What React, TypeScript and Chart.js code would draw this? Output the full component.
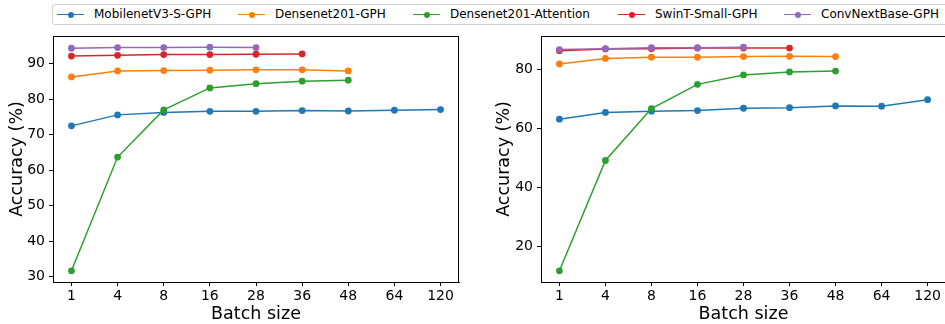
import React, { useEffect, useRef } from "react";
import { Chart, registerables } from "chart.js";

Chart.register(...registerables);

const batchSizes = ["1", "4", "8", "16", "28", "36", "48", "64", "120"];
const seriesNames = [
  "MobilenetV3-S-GPH",
  "Densenet201-GPH",
  "Densenet201-Attention",
  "SwinT-Small-GPH",
  "ConvNextBase-GPH",
];
const seriesColors = ["#1f77b4", "#ff7f0e", "#2ca02c", "#d62728", "#9467bd"];

const leftMobilenet = [72.5, 75.6, 76.3, 76.6, 76.6, 76.8, 76.7, 76.9, 77.1];
const leftDensenet = [86.3, 88.0, 88.1, 88.2, 88.3, 88.3, 88.0];
const leftAttention = [31.6, 63.7, 77.0, 83.2, 84.4, 85.1, 85.4];
const leftSwin = [92.2, 92.4, 92.6, 92.6, 92.7, 92.8];
const leftConvNext = [94.4, 94.6, 94.6, 94.7, 94.6];

const rightMobilenet = [63.2, 65.5, 65.9, 66.1, 66.9, 67.1, 67.7, 67.6, 69.8];
const rightDensenet = [81.9, 83.8, 84.2, 84.2, 84.4, 84.5, 84.4];
const rightAttention = [11.8, 49.2, 66.8, 75.0, 78.2, 79.2, 79.5];
const rightSwin = [86.4, 87.0, 87.1, 87.3, 87.3, 87.3];
const rightConvNext = [86.8, 87.1, 87.4, 87.4, 87.6];

const leftYTicks = [30, 40, 50, 60, 70, 80, 90];
const rightYTicks = [20, 40, 60, 80];

const FONT = "'DejaVu Sans', sans-serif";

const framePlugin = {
  id: "frame",
  afterDraw(chart: any) {
    const { ctx, chartArea } = chart;
    ctx.save();
    ctx.strokeStyle = "#000";
    ctx.lineWidth = 1;
    ctx.strokeRect(
      Math.round(chartArea.left) + 0.5,
      Math.round(chartArea.top) + 0.5,
      Math.round(chartArea.right - chartArea.left) - 1,
      Math.round(chartArea.bottom - chartArea.top)
    );
    ctx.restore();
  },
};

function makeConfig(
  series: number[][],
  yTicks: number[],
  yAxisWidth: number,
  rightPad: number,
  titlePadTop: number
) {
  const all = series.flat();
  const lo = Math.min(...all);
  const hi = Math.max(...all);
  const span = hi - lo;
  const datasets = series.map((vals, i) => ({
    label: seriesNames[i],
    data: vals.map((v, j) => ({ x: j, y: v })),
    borderColor: seriesColors[i],
    backgroundColor: seriesColors[i],
    pointBackgroundColor: seriesColors[i],
    pointBorderWidth: 0,
    pointRadius: 3.4,
    borderWidth: 1.5,
    order: series.length - i,
    tension: 0,
  }));
  return {
    type: "line" as const,
    data: { datasets },
    plugins: [framePlugin],
    options: {
      animation: false as const,
      responsive: false,
      layout: { padding: { top: 6, right: rightPad, left: 0, bottom: 0 } },
      plugins: { legend: { display: false }, tooltip: { enabled: false } },
      scales: {
        x: {
          type: "linear" as const,
          min: -0.4,
          max: batchSizes.length - 1 + 0.4,
          afterBuildTicks: (scale: any) => {
            scale.ticks = batchSizes.map((_, i) => ({ value: i }));
          },
          afterFit: (scale: any) => {
            scale.height = 42;
            scale.paddingLeft = 0;
            scale.paddingRight = 0;
          },
          ticks: {
            callback: (v: any) => batchSizes[Math.round(Number(v))] ?? "",
            color: "#000",
            font: { family: FONT, size: 14 },
            padding: 2,
            maxRotation: 0,
            autoSkip: false,
          },
          grid: {
            drawOnChartArea: false,
            drawTicks: true,
            tickLength: 4,
            color: "#000",
          },
          border: { display: true, color: "#000", width: 1 },
          title: {
            display: true,
            text: "Batch size",
            color: "#000",
            font: { family: FONT, size: 17.5, lineHeight: 1.1 },
            padding: { top: 0, bottom: 0 },
          },
        },
        y: {
          type: "linear" as const,
          min: lo - 0.05 * span,
          max: hi + 0.05 * span,
          afterBuildTicks: (scale: any) => {
            scale.ticks = yTicks.map((v) => ({ value: v }));
          },
          afterFit: (scale: any) => {
            scale.width = yAxisWidth;
            scale.paddingTop = 0;
            scale.paddingBottom = 0;
          },
          ticks: {
            color: "#000",
            font: { family: FONT, size: 14 },
            padding: 4,
          },
          grid: {
            drawOnChartArea: false,
            drawTicks: true,
            tickLength: 4,
            color: "#000",
          },
          border: { display: true, color: "#000", width: 1 },
          title: {
            display: true,
            text: "Accuracy (%)",
            color: "#000",
            font: { family: FONT, size: 17.5, lineHeight: 1.2 },
            padding: { top: titlePadTop, bottom: 0 },
          },
        },
      },
    },
  };
}

function Panel(props: {
  series: number[][];
  yTicks: number[];
  left: number;
  width: number;
  yAxisWidth: number;
  rightPad: number;
  titlePadTop: number;
}) {
  const ref = useRef<HTMLCanvasElement | null>(null);
  useEffect(() => {
    if (!ref.current) return;
    const chart = new Chart(
      ref.current,
      makeConfig(props.series, props.yTicks, props.yAxisWidth, props.rightPad, props.titlePadTop) as any
    );
    return () => chart.destroy();
  }, []);
  return (
    <canvas
      ref={ref}
      width={props.width}
      height={294}
      style={{ position: "absolute", left: props.left, top: 30, width: props.width, height: 294, display: "block" }}
    />
  );
}

const legendItemLeft = [56, 237, 412, 617, 783];

function Legend() {
  return (
    <div
      style={{
        position: "absolute",
        left: 52,
        top: 4,
        width: 900,
        height: 21,
        border: "1px solid #d0d0d0",
        borderRadius: 3,
        boxSizing: "border-box",
        background: "#fff",
      }}
    >
      {seriesNames.map((name, i) => (
        <div
          key={name}
          style={{
            position: "absolute",
            left: legendItemLeft[i] - 52,
            top: 0,
            height: 19,
            display: "flex",
            alignItems: "center",
            whiteSpace: "nowrap",
          }}
        >
          <div style={{ position: "relative", width: 27, height: 8, marginRight: 10 }}>
            <div
              style={{
                position: "absolute",
                left: 0,
                top: 3.25,
                width: 27,
                height: 1.5,
                background: seriesColors[i],
              }}
            />
            <div
              style={{
                position: "absolute",
                left: 10.5,
                top: 1,
                width: 6,
                height: 6,
                borderRadius: 3,
                background: seriesColors[i],
              }}
            />
          </div>
          <span style={{ fontFamily: FONT, fontSize: 12, color: "#000", lineHeight: "19px" }}>{name}</span>
        </div>
      ))}
    </div>
  );
}

export default function App() {
  return (
    <div
      style={{
        position: "fixed",
        left: 0,
        top: 0,
        width: 945,
        height: 324,
        overflow: "hidden",
        background: "#fff",
      }}
    >
      <Legend />
      <Panel
        series={[leftMobilenet, leftDensenet, leftAttention, leftSwin, leftConvNext]}
        yTicks={leftYTicks}
        left={0}
        width={470}
        yAxisWidth={53}
        rightPad={11}
        titlePadTop={6.5}
      />
      <Panel
        series={[rightMobilenet, rightDensenet, rightAttention, rightSwin, rightConvNext]}
        yTicks={rightYTicks}
        left={480}
        width={470}
        yAxisWidth={61}
        rightPad={3}
        titlePadTop={14}
      />
    </div>
  );
}
